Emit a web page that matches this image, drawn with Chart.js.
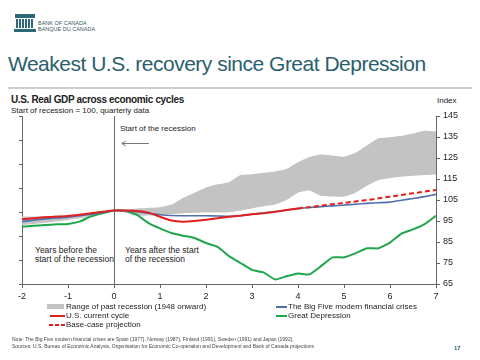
<!DOCTYPE html>
<html>
<head>
<meta charset="utf-8">
<script src="https://cdn.jsdelivr.net/npm/chart.js@4.4.0/dist/chart.umd.min.js"></script>
<style>
  html, body { margin: 0; padding: 0; background: #fff; }
  body { width: 480px; height: 360px; position: relative; overflow: hidden; font-family: "Liberation Sans", Arial, sans-serif; color: #222; }
  .abs { position: absolute; white-space: nowrap; }
  #c { position: absolute; left: 0; top: 0; }
  .narrow { font-family: "Liberation Sans Narrow", "Liberation Sans", Arial, sans-serif; }
  .sw { position: absolute; }
</style>
</head>
<body>
<!-- Logo -->
<div class="abs" style="left:15px;top:14px;width:20px;height:4px;background:#2e6878;"></div>
<div class="abs" style="left:16px;top:19px;width:18px;height:9px;background:repeating-linear-gradient(90deg,#2e6878 0 2px,#fff 2px 3px);"></div>
<div class="abs" style="left:14px;top:29px;width:22px;height:3px;background:#2e6878;"></div>
<div class="abs" style="left:38px;top:20px;font-size:5.5px;line-height:6px;color:#3a5560;">BANK OF CANADA<br>BANQUE DU CANADA</div>

<div class="abs" style="left:8px;top:52px;font-size:21px;letter-spacing:-0.5px;color:#2a5e6c;">Weakest U.S. recovery since Great Depression</div>
<div class="abs" style="left:8px;top:87px;width:464px;height:2px;background:#cfcfcf;"></div>

<div class="abs" style="left:11px;top:94px;font-size:10px;font-weight:bold;letter-spacing:-0.35px;">U.S. Real GDP across economic cycles</div>
<div class="abs" style="left:11px;top:106px;font-size:8px;">Start of recession = 100, quarterly data</div>
<div class="abs" style="left:437px;top:96px;font-size:8px;">Index</div>

<div class="abs narrow" style="left:120px;top:124px;font-size:8px;">Start of the recession</div>
<div class="abs narrow" style="left:35px;top:246px;font-size:8.5px;line-height:9px;">Years before the<br>start of the recession</div>
<div class="abs narrow" style="left:125px;top:246px;font-size:8.5px;line-height:9px;">Years after the start<br>of the recession</div>

<canvas id="c" width="480" height="360"></canvas>

<!-- Legend -->
<div class="sw" style="left:47px;top:304px;width:17px;height:5px;background:#c3c3c3;"></div>
<div class="abs" style="left:66px;top:302px;font-size:8px;">Range of past recession (1948 onward)</div>
<div class="sw" style="left:50px;top:315px;width:15px;height:2px;background:#e0201f;"></div>
<div class="abs" style="left:66px;top:311px;font-size:8px;">U.S. current cycle</div>
<div class="sw" style="left:49px;top:324px;width:16px;height:2px;background:repeating-linear-gradient(90deg,#e0201f 0 4px,transparent 4px 6px);"></div>
<div class="abs" style="left:66px;top:320px;font-size:8px;">Base-case projection</div>
<div class="sw" style="left:276px;top:306px;width:11px;height:1.5px;background:#4f6fae;"></div>
<div class="abs" style="left:288px;top:302px;font-size:8px;">The Big Five modern financial crises</div>
<div class="sw" style="left:276px;top:315px;width:11px;height:1.5px;background:#1fa64c;"></div>
<div class="abs" style="left:288px;top:311px;font-size:8px;">Great Depression</div>

<div class="abs" style="left:12px;top:336px;font-size:5px;line-height:7px;color:#444;">Note: The Big Five modern financial crises are Spain (1977), Norway (1987), Finland (1991), Sweden (1991) and Japan (1992).<br>Sources: U.S. Bureau of Economic Analysis, Organisation for Economic Co-operation and Development and Bank of Canada projections</div>
<div class="abs" style="left:454px;top:345px;font-size:6px;font-weight:bold;color:#2a5e6c;">17</div>

<script>
// Quarters relative to start of recession (years)
const quarters = [-2,-1.75,-1.5,-1.25,-1,-0.75,-0.5,-0.25,0,0.25,0.5,0.75,1,1.25,1.5,1.75,2,2.25,2.5,2.75,3,3.25,3.5,3.75,4,4.25,4.5,4.75,5,5.25,5.5,5.75,6,6.25,6.5,6.75,7];
const xTicks = [-2,-1,0,1,2,3,4,5,6,7];
const yTicks = [65,75,85,95,105,115,125,135,145];

const rangeUpper = [97.1,97.2,97.3,97.4,97.5,98.0,98.7,99.4,100,100.6,101.0,101.2,101.5,102.8,106.0,108.5,111.0,112.5,113.5,116.9,117.3,118.0,118.6,119.8,123.0,125.5,126.7,126.2,125.6,127.5,131.0,134.4,134.9,135.6,136.7,138.0,137.7];
const rangeLower = [93.1,93.6,94.2,94.8,95.5,96.3,97.1,98.5,100,99.0,97.5,97.6,97.9,98.3,98.7,98.9,99.0,99.0,99.2,100.0,101.0,102.0,102.8,105.0,108.5,109.5,106.9,106.7,106.6,108.5,111.8,114.5,115.5,116.1,116.5,116.9,117.2];
const usCurrent = [95.8,96.3,96.8,97.1,97.4,98.0,98.7,99.4,100,100.0,99.8,99.0,97.0,95.2,94.7,95.0,95.6,96.3,97.0,97.5,98.2,98.7,99.4,100.2,101.0,null,null,null,null,null,null,null,null,null,null,null,null];
const projection = [null,null,null,null,null,null,null,null,null,null,null,null,null,null,null,null,null,null,null,null,null,null,null,null,101.0,101.6,102.3,103.0,103.6,104.3,105.0,105.8,106.6,107.4,108.2,109.0,109.8];
const bigFive = [94.7,95.4,96.0,96.4,96.8,97.5,98.2,99.1,100,99.8,99.4,98.7,98.0,97.6,97.5,97.5,97.5,97.4,97.2,97.6,98.2,98.8,99.4,100.2,100.9,101.4,101.8,102.2,102.6,103.0,103.4,103.7,104.0,104.9,105.7,106.6,107.7];
const greatDepression = [92.3,92.7,93.1,93.4,93.6,94.7,97.2,98.7,100,99.8,97.9,94.0,91.5,89.3,88.0,86.9,84.5,82.7,78.3,75.0,71.7,70.5,67.2,68.7,70.0,69.6,73.5,77.7,77.7,79.6,82.0,82.0,84.7,89.0,91.0,93.5,97.5];

const arrowFrom = 0.76, arrowTo = 0.17, arrowLevel = 132.3;

const pts = arr => quarters.map((q, i) => ({x: q, y: arr[i]}));

const arrowPlugin = {
  id: 'arrow',
  afterDatasetsDraw(chart) {
    const {ctx, scales: {x, y}} = chart;
    const x0 = x.getPixelForValue(arrowFrom), x1 = x.getPixelForValue(arrowTo), yy = Math.round(y.getPixelForValue(arrowLevel)) + 0.5;
    ctx.save();
    ctx.strokeStyle = '#777'; ctx.lineWidth = 1;
    ctx.beginPath(); ctx.moveTo(x0, yy); ctx.lineTo(x1, yy);
    ctx.moveTo(x1 + 4, yy - 2.5); ctx.lineTo(x1, yy); ctx.lineTo(x1 + 4, yy + 2.5);
    ctx.stroke(); ctx.restore();
  }
};

const font = {family: '"Liberation Sans", Arial, sans-serif', size: 9};

new Chart(document.getElementById('c'), {
  type: 'line',
  data: {
    datasets: [
      {label: 'Range of past recession (1948 onward)', data: pts(rangeUpper), borderWidth: 0, borderColor: 'rgba(0,0,0,0)', backgroundColor: '#c3c3c3', fill: '+1', pointRadius: 0, tension: 0.15, order: 10, yAxisID: 'y'},
      {label: 'lower', data: pts(rangeLower), borderWidth: 0, borderColor: 'rgba(0,0,0,0)', backgroundColor: '#c3c3c3', fill: false, pointRadius: 0, tension: 0.15, order: 11, yAxisID: 'y'},
      {label: 'Great Depression', data: pts(greatDepression), borderColor: '#1fa64c', borderWidth: 2, pointRadius: 0, fill: false, tension: 0.15, order: 4, yAxisID: 'y'},
      {label: 'The Big Five modern financial crises', data: pts(bigFive), borderColor: '#4f6fae', borderWidth: 1.6, pointRadius: 0, fill: false, tension: 0.15, order: 3, yAxisID: 'y'},
      {label: 'Base-case projection', data: pts(projection), borderColor: '#e0201f', borderWidth: 2, borderDash: [5, 3], pointRadius: 0, fill: false, tension: 0, order: 1, spanGaps: false, yAxisID: 'y'},
      {label: 'U.S. current cycle', data: pts(usCurrent), borderColor: '#e0201f', borderWidth: 2, pointRadius: 0, fill: false, tension: 0.15, order: 0, spanGaps: false, yAxisID: 'y'}
    ]
  },
  options: {
    responsive: false,
    animation: false,
    devicePixelRatio: 1,
    layout: {padding: {left: 17, top: 116, right: 0, bottom: 0}},
    plugins: {legend: {display: false}, tooltip: {enabled: false}, title: {display: false}},
    scales: {
      x: {
        type: 'linear', position: 'bottom', min: -2, max: 7,
        afterBuildTicks: s => { s.ticks = xTicks.map(v => ({value: v})); },
        afterFit: s => { s.height = 76; },
        ticks: {color: '#222', font: font, padding: 3, maxRotation: 0},
        grid: {
          drawOnChartArea: true,
          color: c => (c.tick && c.tick.value === 0) ? '#6a6a6a' : 'rgba(0,0,0,0)',
          tickColor: '#666', tickLength: 4, lineWidth: 1
        },
        border: {display: true, color: '#666'}
      },
      y: {
        position: 'right', min: 65, max: 145,
        afterBuildTicks: s => { s.ticks = yTicks.map(v => ({value: v})); },
        afterFit: s => { s.width = 44; },
        ticks: {color: '#222', font: font, padding: 3},
        grid: {drawOnChartArea: false, tickColor: '#666', tickLength: 4},
        border: {display: true, color: '#666'}
      },
      y2: {
        position: 'left', min: 0, max: 7,
        ticks: {display: true, stepSize: 1, color: 'rgba(0,0,0,0)', font: {size: 1}},
        afterFit: s => { s.width = 5; },
        grid: {drawOnChartArea: false, tickColor: '#666', tickLength: 3},
        border: {display: true, color: '#666'}
      }
    }
  },
  plugins: [arrowPlugin]
});
</script>
</body>
</html>
